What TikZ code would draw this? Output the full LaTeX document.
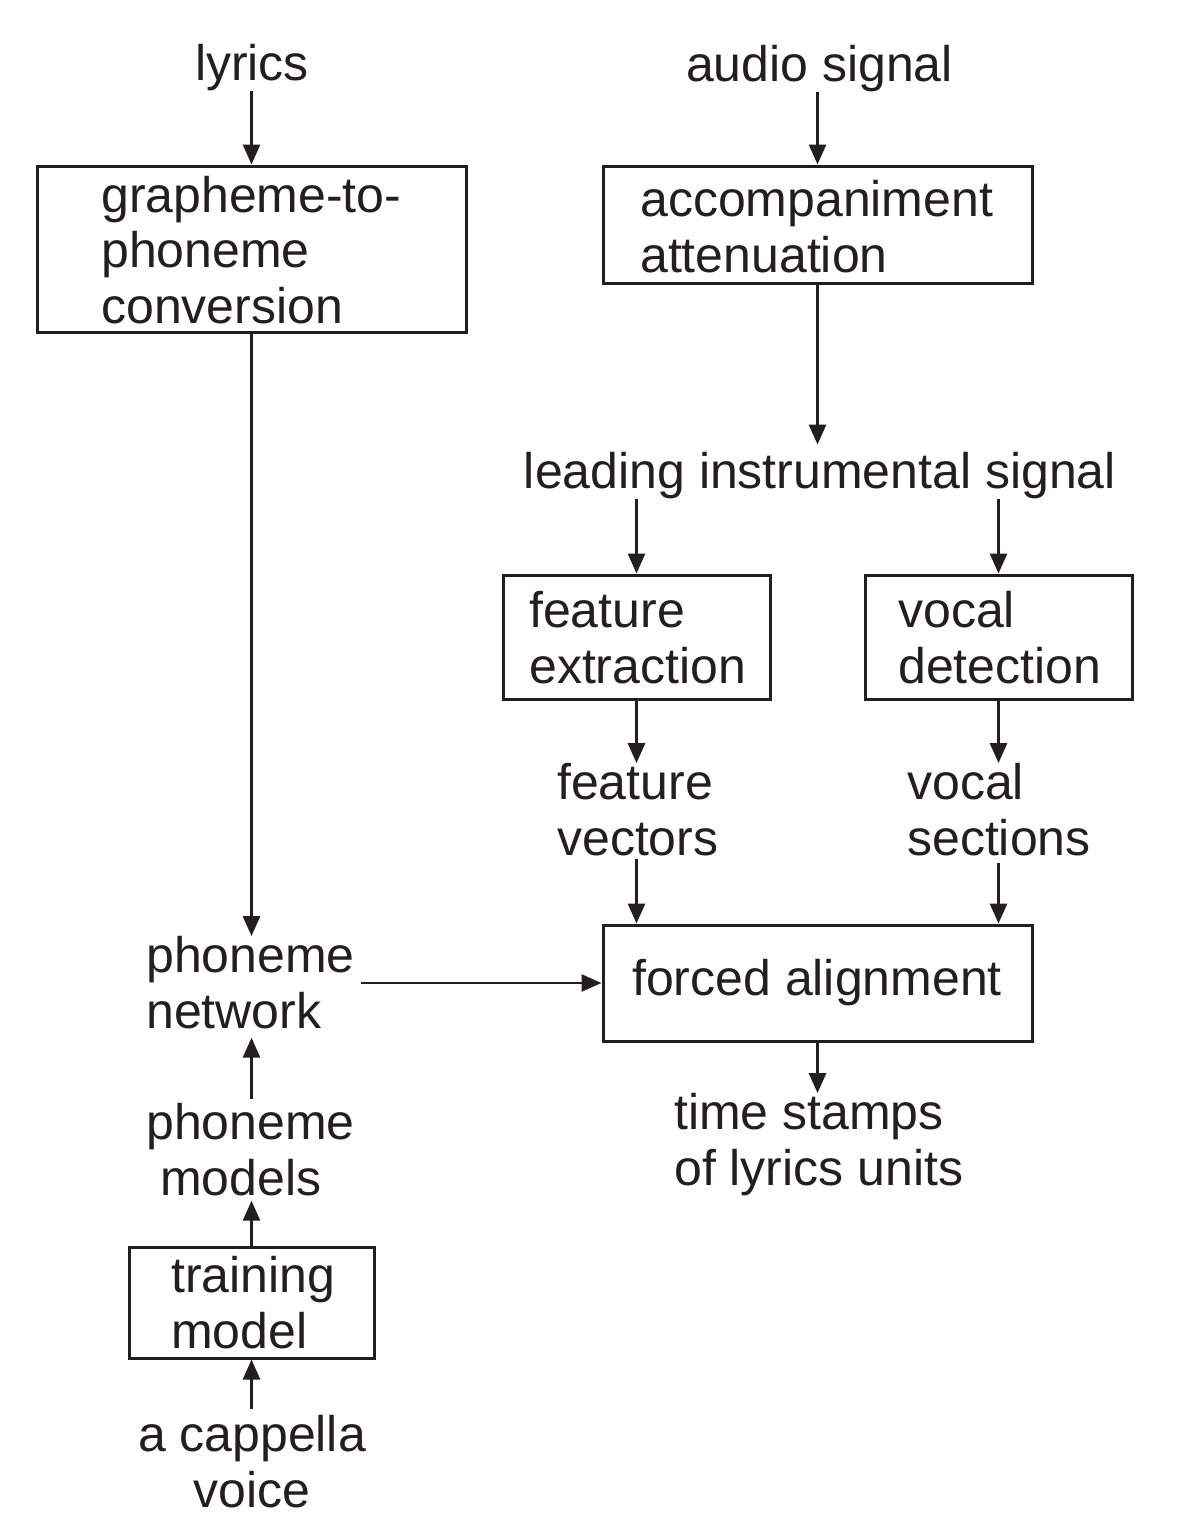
\documentclass[tikz,border=0pt]{standalone}
\usepackage{fontspec}
\setmainfont{Liberation Sans}
\usetikzlibrary{arrows.meta}
\definecolor{ink}{HTML}{231F20}
\begin{document}
\begin{tikzpicture}[x=1pt,y=-1pt,
  txt/.style={inner sep=0pt, text=ink, font=\fontsize{50}{55.5}\selectfont, align=left},
  ctxt/.style={txt, align=center},
  box/.style={draw=ink, line width=3pt, inner sep=0pt},
  arr/.style={draw=ink, line width=2.8pt, -{Triangle[width=17pt,length=20pt]}}]
\fill[white] (0,0) rectangle (1180,1534);
\useasboundingbox (0,0) rectangle (1180,1534);
% boxes
\node[box, minimum width=429pt, minimum height=166pt] (g2p) at (251.5,249) {};
\node[box, minimum width=429pt, minimum height=117pt] (acc) at (817.5,224.5) {};
\node[box, minimum width=267pt, minimum height=124pt] (fe) at (636.5,637) {};
\node[box, minimum width=267pt, minimum height=124pt] (vd) at (998.5,637) {};
\node[box, minimum width=429pt, minimum height=116pt] (fa) at (817.5,983) {};
\node[box, minimum width=245pt, minimum height=111pt] (tm) at (251.5,1302.5) {};
% texts (base anchor = baseline of the last line)
\node[ctxt, anchor=base] (lyrics) at (252,80) {lyrics};
\node[ctxt, anchor=base] (audio) at (819.5,81) {audio signal};
\node[txt, anchor=base west] (g2pT) at (101,323) {grapheme-to-\\phoneme\\conversion};
\node[txt, anchor=base west] (accT) at (640,272) {accompaniment\\attenuation};
\node[ctxt, anchor=base] (lead) at (820,488) {leading instrumental signal};
\node[txt, anchor=base west] (feT) at (529,683) {feature\\extraction};
\node[txt, anchor=base west] (vdT) at (898,683) {vocal\\detection};
\node[txt, anchor=base west] (fv) at (557,855) {feature\\vectors};
\node[txt, anchor=base west] (vs) at (907,855) {vocal\\sections};
\node[txt, anchor=base west] (pn) at (146,1028) {phoneme\\network};
\node[txt, anchor=base west] (faT) at (632,995) {forced alignment};
\node[txt, anchor=base west] (ts) at (674,1185) {time stamps\\of lyrics units};
\node[txt, anchor=base west] (pm) at (146,1195) {phoneme\\\hspace*{14pt}models};
\node[txt, anchor=base west] (tmT) at (171,1348) {training\\model};
\node[ctxt, anchor=base] (acap) at (252,1507) {a cappella\\voice};
% connectors
\draw[arr] (g2p.north |- lyrics.south) -- (g2p.north);
\draw[arr] (acc.north |- audio.south) -- (acc.north);
\draw[arr] (g2p.south) -- (g2p.south |- pn.north);
\draw[arr, shorten >=7pt] (acc.south) -- (acc.south |- lead.north);
\draw[arr] (fe.north |- lead.south) -- (fe.north);
\draw[arr] (vd.north |- lead.south) -- (vd.north);
\draw[arr] (fe.south) -- (fe.south |- fv.north);
\draw[arr] (vd.south) -- (vd.south |- vs.north);
\draw[arr, shorten <=3pt] (fe.south |- fv.south) -- (fa.north -| fe.south);
\draw[arr, shorten <=7pt] (vd.south |- vs.south) -- (fa.north -| vd.south);
\draw[arr, shorten <=6pt] (pn.east |- fa.west) -- (fa.west);
\draw[arr] (fa.south) -- (fa.south |- ts.north);
\draw[arr, shorten <=4pt, shorten >=9pt] (pm.north -| tm.north) -- (pn.south -| tm.north);
\draw[arr, shorten >=5pt] (tm.north) -- (tm.north |- pm.south);
\draw[arr, shorten <=6pt] (acap.north -| tm.south) -- (tm.south);
\end{tikzpicture}
\end{document}
